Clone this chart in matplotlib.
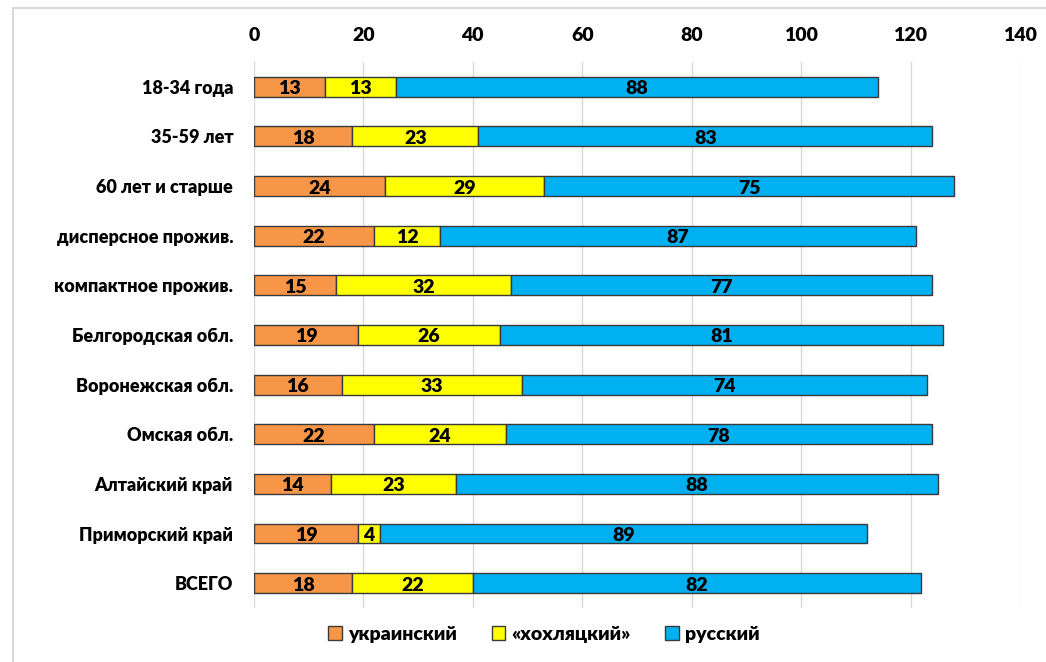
import numpy as np
import matplotlib.pyplot as plt
from matplotlib.patches import Rectangle

plt.rcParams['font.family'] = ['Lato', 'DejaVu Sans']

categories = ['18-34 года', '35-59 лет', '60 лет и старше', 'дисперсное прожив.',
              'компактное прожив.', 'Белгородская обл.', 'Воронежская обл.',
              'Омская обл.', 'Алтайский край', 'Приморский край', 'ВСЕГО']
ukr = [13, 18, 24, 22, 15, 19, 16, 22, 14, 19, 18]
khokh = [13, 23, 29, 12, 32, 26, 33, 24, 23, 4, 22]
rus = [88, 83, 75, 87, 77, 81, 74, 78, 88, 89, 82]

series = [
    ('украинский', ukr, '#F79646'),
    ('«хохляцкий»', khokh, '#FFFF00'),
    ('русский', rus, '#00B0F0'),
]

W = 'heavy'

fig = plt.figure(figsize=(10.46, 6.62), dpi=100)
ax = fig.add_axes([0.2428, 0.0816, 0.7323, 0.8248])

y = np.arange(len(categories))
left = np.zeros(len(categories))
for name, vals, color in series:
    vals = np.array(vals, dtype=float)
    ax.barh(y, vals, left=left, height=0.4, color=color,
            edgecolor='#3a3a3a', linewidth=1.0, label=name, zorder=3)
    for yi, l, v in zip(y, left, vals):
        ax.text(l + v / 2, yi + 0.04, f'{v:g}', ha='center', va='center',
                fontsize=14, fontweight=W, color='black', zorder=4)
    left += vals

ax.set_xlim(0, 140)
ax.set_ylim(len(categories) - 0.5, -0.5)
ax.set_xticks(np.arange(0, 141, 20))
ax.xaxis.tick_top()
ax.tick_params(axis='x', length=0, pad=13, labelsize=14)
ax.tick_params(axis='y', length=0, pad=15, labelsize=13)
ax.set_yticks(y)
ax.set_yticklabels(categories)
for lbl in ax.get_xticklabels() + ax.get_yticklabels():
    lbl.set_fontweight(W)
ax.grid(axis='x', color='#d9d9d9', linewidth=1, zorder=0)
for s in ax.spines.values():
    s.set_visible(False)

fig.legend(loc='center', bbox_to_anchor=(0.52, 0.042), ncol=3, frameon=False,
           handlelength=0.7, handleheight=0.7, columnspacing=1.8,
           handletextpad=0.3, prop={'weight': W, 'size': 14})

# light frame: only the top and left edges fall inside the image
fig.patches.append(Rectangle((0.0125, -0.1), 1.2, 1.088, transform=fig.transFigure,
                             fill=False, edgecolor='#d9d9d9', linewidth=1.5))

fig.savefig('out.png', dpi=100)
